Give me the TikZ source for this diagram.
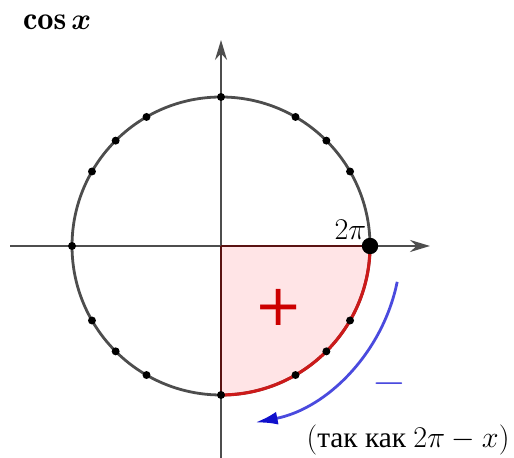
\documentclass[tikz,border=0pt]{standalone}
\usepackage{amsmath,amssymb,bm}
\usepackage{fontspec}
\newfontfamily\cyrfont{Liberation Serif}
\newfontfamily\plusfont{DejaVu Sans}
\usetikzlibrary{arrows.meta,positioning}
\definecolor{AxisGray}{HTML}{4D4D4D}
\definecolor{ArcRed}{HTML}{CC1A1A}
\definecolor{PlusRed}{HTML}{CC0000}
\definecolor{SectorPink}{HTML}{FFE4E6}
\definecolor{RadiusMaroon}{HTML}{5A1212}
\definecolor{TurnBlue}{HTML}{4A4ADE}
\definecolor{HeadBlue}{HTML}{1010CC}

\begin{document}
\begin{tikzpicture}[every node/.style={inner sep=0pt},
  dot/.style={circle, fill=black, minimum size=1.6mm},
  bigdot/.style={circle, fill=black, minimum size=3.3mm}]
  \useasboundingbox (-4.450,-4.268) rectangle (5.899,4.953);
  \coordinate (o) at (0,0);
  \coordinate (xl) at (-4.248,0);
  \coordinate (xr) at (4.208,0);
  \coordinate (yb) at (0,-4.268);
  \coordinate (yt) at (0,4.148);
  % quarter where cos x > 0
  \fill[SectorPink] (o) -- (0,-3) arc[start angle=270, end angle=360, radius=3] -- cycle;
  \draw[line width=1.6pt, AxisGray, -{Stealth[length=4mm,width=2.4mm]}] (xl)--(xr);
  \draw[line width=1.6pt, AxisGray, -{Stealth[length=4mm,width=2.4mm]}] (yb)--(yt);
  \draw[line width=1.6pt, AxisGray] (o) circle[radius=3];
  \draw[line width=1.8pt, ArcRed] (0,-3) arc[start angle=270, end angle=360, radius=3];
  \draw[line width=1.6pt, RadiusMaroon] (o)--(3,0);
  \draw[line width=1.6pt, RadiusMaroon] (o)--(0,-3);
  \foreach \a in {30,45,60,90,120,135,150,180,210,225,240,270,300,315,330}
    \node[dot] (d\a) at (\a:3) {};
  \node[bigdot] (d0) at (0:3) {};
  \node[anchor=south east] (twopi) at (2.93,0.12) {\fontsize{17}{20}\selectfont$2\pi$};
  \node (cosx) at (-3.30,4.51) {\fontsize{18.5}{22}\selectfont$\mathbf{cos}\,\bm{x}$};
  \node[PlusRed] (plus) at (1.168,-1.228) {\fontsize{33}{35}\plusfont +};
  % direction of travel
  \coordinate (bs) at (-11.5:3.62);
  \coordinate (be) at (-79:3.62);
  \draw[line width=1.6pt, TurnBlue, -{Latex[length=4.5mm,width=2.6mm,color=HeadBlue]}] (bs) arc[start angle=-11.5, end angle=-79, radius=3.62];
  \node[TurnBlue] (minus) at (3.383,-2.779) {\fontsize{24}{26}\selectfont$-$};
  \node (note) at (3.765,-3.906) {\fontsize{16.8}{19}\selectfont$(\text{\cyrfont так как }2\pi-x)$};
\end{tikzpicture}
\end{document}
